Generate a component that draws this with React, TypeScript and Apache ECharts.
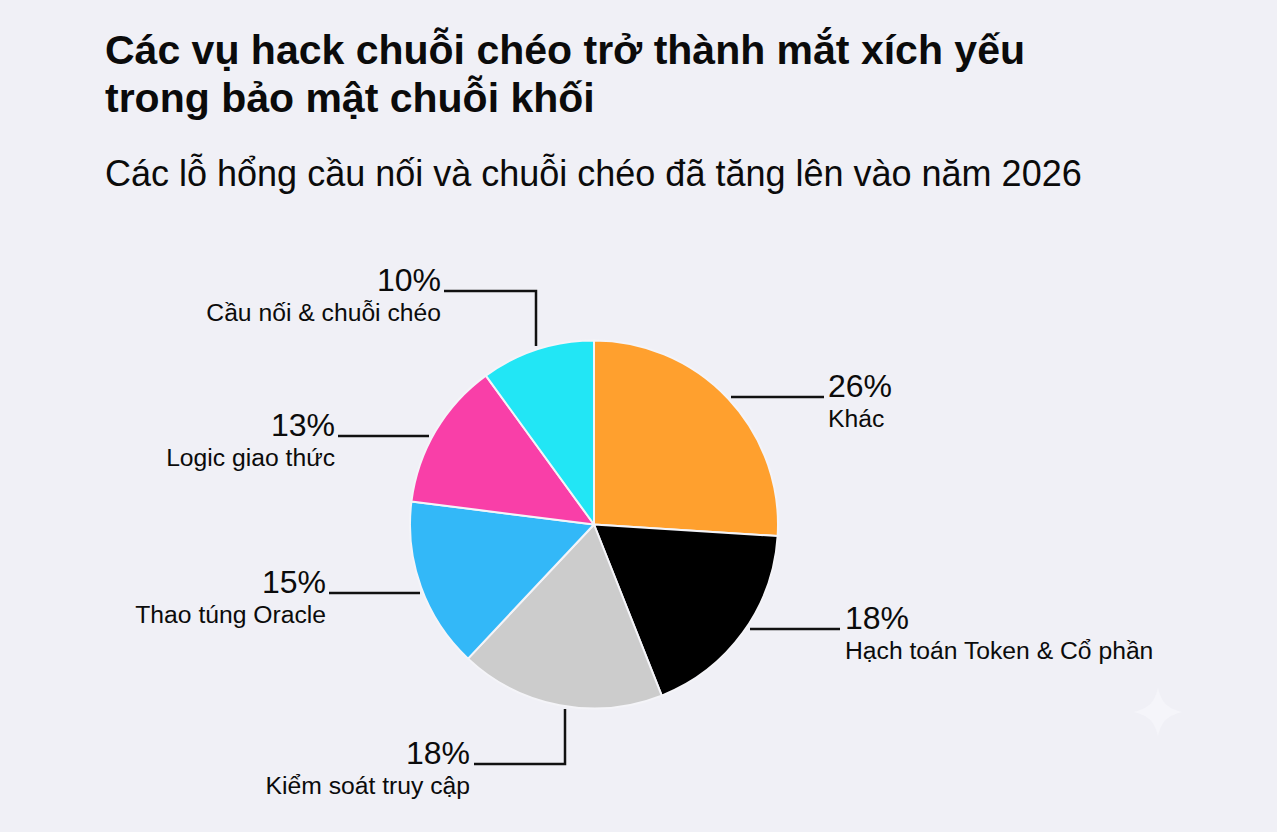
import React, { useEffect, useRef } from "react";
import * as echarts from "echarts";

const titleLines = ["Các vụ hack chuỗi chéo trở thành mắt xích yếu", "trong bảo mật chuỗi khối"];
const subtitleText = "Các lỗ hổng cầu nối và chuỗi chéo đã tăng lên vào năm 2026";
const categories = ["Khác", "Hạch toán Token & Cổ phần", "Kiểm soát truy cập", "Thao túng Oracle", "Logic giao thức", "Cầu nối & chuỗi chéo"];
const shares = [26, 18, 18, 15, 13, 10];
const sliceColors = ["#ffa02e", "#000000", "#cccccc", "#33b8f8", "#f93fa8", "#22e6f5"];

const FONT = '"Liberation Sans", Arial, sans-serif';
const TEXT = "#0b0b0b";

const layouts = [
  { x: 828, y: 369, side: "left", line: [[731, 397], [824, 397]] },
  { x: 845, y: 601, side: "left", line: [[750, 629], [840, 629]] },
  { x: 470, y: 736, side: "right", line: [[474, 764], [565, 764], [565, 709]] },
  { x: 326, y: 565, side: "right", line: [[329, 593], [420, 593]] },
  { x: 335, y: 408, side: "right", line: [[338, 436], [429, 436]] },
  { x: 441, y: 263, side: "right", line: [[444, 291], [536, 291], [536, 346]] },
];

const SPARKLE = "M0 -24 C4 -9 9 -4 24 0 C9 4 4 9 0 24 C-4 9 -9 4 -24 0 C-9 -4 -4 -9 0 -24Z";

export default function App() {
  const ref = useRef<HTMLDivElement>(null);
  useEffect(() => {
    document.body.style.margin = "0";
    echarts.graphic.registerShape("sparkle", echarts.graphic.extendPath(SPARKLE, {}));
    const chart = echarts.init(ref.current!, undefined, { renderer: "svg" });
    chart.setOption({
      animation: false,
      backgroundColor: "#f0f0f6",
      title: [
        {
          text: titleLines.join("\n"),
          left: 105,
          top: 26,
          padding: 0,
          textStyle: { fontFamily: FONT, fontSize: 41, fontWeight: "bold", color: TEXT, lineHeight: 48 },
        },
        {
          text: subtitleText,
          left: 105,
          top: 153,
          padding: 0,
          textStyle: { fontFamily: FONT, fontSize: 36, fontWeight: "normal", color: TEXT, lineHeight: 40 },
        },
      ],
      graphic: [
        {
          type: "sparkle",
          x: 1158,
          y: 712,
          silent: true,
          style: { fill: "#f5f5fa" },
        },
      ],
      series: [
        {
          type: "pie",
          center: [594, 524.5],
          radius: [0, 184],
          startAngle: 90,
          clockwise: true,
          avoidLabelOverlap: false,
          itemStyle: { borderColor: "#f4f4f8", borderWidth: 2 },
          emphasis: { disabled: true },
          labelLine: { show: true, lineStyle: { color: "#111111", width: 2.5 } },
          label: {
            show: true,
            position: "outside",
            fontFamily: FONT,
            formatter: (p: any) => {
              const s = layouts[p.dataIndex].side === "right" ? "R" : "L";
              return `{p${s}|${p.value}%}\n{n${s}|${p.name}}`;
            },
            rich: {
              pL: { fontFamily: FONT, fontSize: 32, lineHeight: 34, color: TEXT, align: "left" },
              nL: { fontFamily: FONT, fontSize: 24.7, lineHeight: 30, color: TEXT, align: "left" },
              pR: { fontFamily: FONT, fontSize: 32, lineHeight: 34, color: TEXT, align: "right" },
              nR: { fontFamily: FONT, fontSize: 24.7, lineHeight: 30, color: TEXT, align: "right" },
            },
          },
          labelLayout: (p: any) => {
            const l = layouts[p.dataIndex];
            return { x: l.x, y: l.y, align: l.side, verticalAlign: "top", labelLinePoints: l.line };
          },
          data: categories.map((name, i) => ({
            name,
            value: shares[i],
            itemStyle: { color: sliceColors[i] },
          })),
        },
      ],
    });
    return () => chart.dispose();
  }, []);
  return <div ref={ref} style={{ width: 1277, height: 832 }} />;
}
